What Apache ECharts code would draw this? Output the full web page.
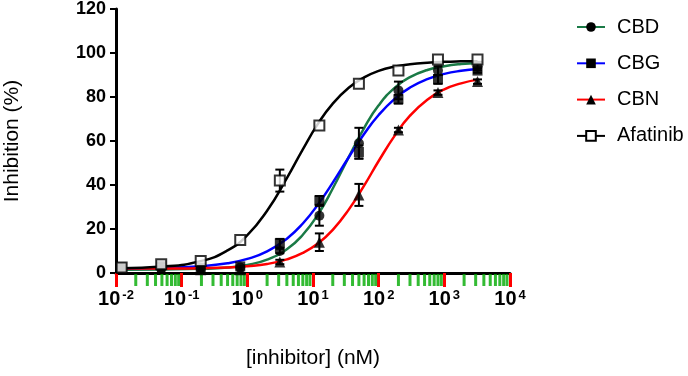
<!DOCTYPE html>
<html>
<head>
<meta charset="utf-8">
<script src="https://cdn.jsdelivr.net/npm/echarts@6/dist/echarts.min.js"></script>
<style>
  html, body { margin: 0; padding: 0; background: #fff; }
  #chart { width: 688px; height: 376px; }
</style>
</head>
<body>
<div id="chart"></div>
<script>
// concentrations of the measured points (nM)
var doseX = [0.0122, 0.0488, 0.195, 0.78, 3.125, 12.5, 50, 200, 800, 3200];
// measured inhibition (%) and error (+/-)
var cbdY = [2, 2, 2, 2.5, 10, 26, 59, 83, 92, 94];
var cbdErr = [0, 0, 0, 0, 1, 4.5, 7, 4, 2, 2];
var cbgY = [2.5, 3.5, 2.5, 3, 13.5, 33, 55, 79, 88, 92];
var cbgErr = [1, 1, 0, 0, 2, 2, 3, 2, 2, 1];
var cbnY = [2, 2, 1.5, 1.5, 5, 14, 35.5, 65, 82, 87];
var cbnErr = [0, 0, 0, 0, 1, 4, 5, 1, 1, 1];
var afaY = [2.5, 4, 5.5, 15, 42, 67, 86, 92, 97, 97];
var afaErr = [0, 0, 0, 0, 5, 0, 0, 0, 0, 0];

// fitted curves
var fitX = [0.0122, 0.05, 0.2, 0.5, 1, 2, 4, 7, 12, 20, 35, 60, 100, 180, 300, 550, 1000, 1800, 3200];
var cbdFit = [1.5, 1.6, 1.9, 2.5, 3.7, 6.1, 10.8, 17.4, 26.7, 38.4, 52.7, 65.9, 76.2, 84.5, 89.0, 92.3, 94.0, 95.0, 95.5];
var cbgFit = [2.1, 2.3, 3.1, 4.4, 6.4, 9.8, 15.6, 22.5, 31.3, 41.1, 52.6, 63.2, 71.8, 79.5, 84.3, 88.1, 90.5, 91.9, 92.7];
var cbnFit = [2.0, 2.05, 2.2, 2.5, 3.1, 4.1, 6.2, 9.1, 13.5, 19.6, 28.8, 39.7, 50.9, 62.9, 71.5, 78.8, 83.5, 86.2, 87.9];
var afaFit = [2.2, 2.9, 5.5, 10.3, 17.2, 28.3, 43.1, 56.2, 68.0, 77.0, 84.2, 88.9, 91.9, 93.9, 94.9, 95.6, 96.0, 96.2, 96.3];

var names = ["CBD", "CBG", "CBN", "Afatinib"];
var colors = ["#1a7a46", "#0000ff", "#ff0000", "#000000"];

// minor log ticks 2..9 inside every decade
var minorTickVals = [];
for (var k = -2; k < 4; k++) {
  for (var m = 2; m < 10; m++) minorTickVals.push(m * Math.pow(10, k));
}

function pairs(xs, ys) {
  return xs.map(function (x, i) { return [x, ys[i]]; });
}

function errData(ys, errs) {
  return doseX.map(function (x, i) { return [x, ys[i], errs[i]]; }).filter(function (d) { return d[2] > 0; });
}

function errSeries(ys, errs) {
  return {
    type: "custom",
    z: 3,
    silent: true,
    data: errData(ys, errs),
    renderItem: function (params, api) {
      var top = api.coord([api.value(0), api.value(1) + api.value(2)]);
      var bot = api.coord([api.value(0), api.value(1) - api.value(2)]);
      var st = { stroke: "#000", lineWidth: 2 };
      return {
        type: "group",
        children: [
          { type: "line", shape: { x1: top[0], y1: top[1], x2: bot[0], y2: bot[1] }, style: st },
          { type: "line", shape: { x1: top[0] - 4.5, y1: top[1], x2: top[0] + 4.5, y2: top[1] }, style: st },
          { type: "line", shape: { x1: bot[0] - 4.5, y1: bot[1], x2: bot[0] + 4.5, y2: bot[1] }, style: st }
        ]
      };
    }
  };
}

function fitSeries(idx, data, symbol) {
  return {
    name: names[idx],
    type: "line",
    smooth: true,
    showSymbol: false,
    symbol: symbol,
    z: 2,
    data: data,
    lineStyle: { color: colors[idx], width: 2.5 },
    itemStyle: { color: colors[idx] },
    emphasis: { disabled: true }
  };
}

function pointSeries(data, symbol, size, style) {
  return {
    name: "pts",
    type: "scatter",
    z: 4,
    symbol: symbol,
    symbolSize: size,
    data: data,
    itemStyle: style,
    emphasis: { disabled: true }
  };
}

var chart = echarts.init(document.getElementById("chart"));
chart.setOption({
  animation: false,
  grid: { left: 116, right: 178, top: 9, bottom: 103, outerBoundsMode: "none" },
  legend: {
    data: names,
    orient: "vertical",
    left: 571,
    top: 12,
    itemWidth: 28,
    itemHeight: 12,
    itemGap: 16.3,
    selectedMode: false,
    itemStyle: { color: "#000", borderColor: "#000", borderWidth: 0 },
    textStyle: { fontFamily: "Liberation Sans", fontSize: 20, color: "#000", padding: [0, 0, 0, 7] }
  },
  xAxis: {
    type: "log",
    logBase: 10,
    min: 0.01,
    max: 10000,
    interval: 1,
    name: "[inhibitor] (nM)",
    nameLocation: "middle",
    nameGap: 75,
    nameTextStyle: { fontFamily: "Liberation Sans", fontSize: 21, color: "#000" },
    axisLine: { lineStyle: { color: "#000", width: 3 } },
    axisTick: { length: 14, lineStyle: { color: "#f00", width: 3 } },
    splitLine: { show: false },
    axisLabel: {
      margin: 16,
      formatter: function (v) {
        var p = Math.round(Math.log(v) / Math.LN10);
        return "{b|10}{s|" + p + "}";
      },
      rich: {
        b: { fontFamily: "Liberation Sans", fontSize: 20, fontWeight: "bold", color: "#000" },
        s: { fontFamily: "Liberation Sans", fontSize: 13, fontWeight: "bold", color: "#000", verticalAlign: "top", padding: [0, 0, 0, 2] }
      }
    }
  },
  yAxis: {
    type: "value",
    min: 0,
    max: 120,
    interval: 20,
    name: "Inhibition (%)",
    nameLocation: "middle",
    nameGap: 93,
    nameTextStyle: { fontFamily: "Liberation Sans", fontSize: 21, color: "#000" },
    axisLine: { show: true, lineStyle: { color: "#000", width: 3 } },
    axisTick: { show: true, length: 6, lineStyle: { color: "#000", width: 2 } },
    splitLine: { show: false },
    axisLabel: { margin: 10, fontFamily: "Liberation Sans", fontSize: 18, fontWeight: "bold", color: "#000" }
  },
  series: [
    fitSeries(0, pairs(fitX, cbdFit), "circle"),
    fitSeries(1, pairs(fitX, cbgFit), "rect"),
    fitSeries(2, pairs(fitX, cbnFit), "triangle"),
    fitSeries(3, pairs(fitX, afaFit), "emptyRect"),
    errSeries(cbdY, cbdErr),
    errSeries(cbgY, cbgErr),
    errSeries(cbnY, cbnErr),
    errSeries(afaY, afaErr),
    pointSeries(pairs(doseX, cbdY), "circle", 10, { color: "#000" }),
    pointSeries(pairs(doseX, cbgY), "rect", 10, { color: "#000" }),
    pointSeries(pairs(doseX, cbnY), "triangle", 11, { color: "#000" }),
    pointSeries(pairs(doseX, afaY), "rect", 10, { color: "#fff", borderColor: "#000", borderWidth: 2 }),
    {
      type: "scatter",
      clip: false,
      symbol: "rect",
      symbolSize: [3, 12],
      symbolOffset: [0, 7],
      itemStyle: { color: "#0a0" },
      data: minorTickVals.map(function (v) { return [v, 0]; })
    }
  ]
});
</script>
</body>
</html>
